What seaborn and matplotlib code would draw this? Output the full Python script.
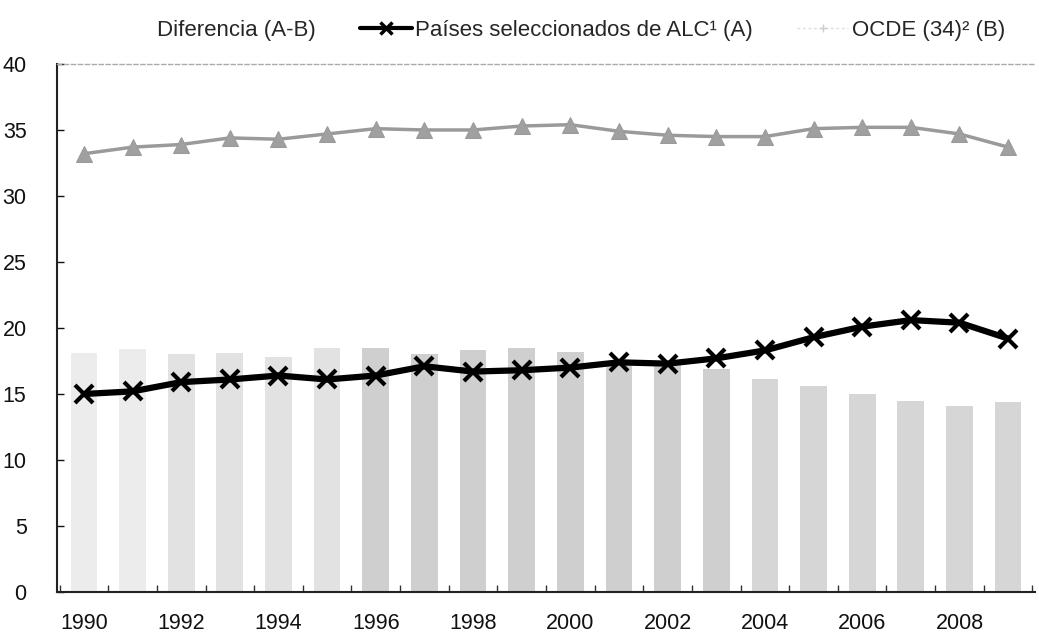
import matplotlib
matplotlib.use("Agg")
import matplotlib.pyplot as plt
from matplotlib.lines import Line2D
from matplotlib.patches import Patch
from matplotlib.ticker import MultipleLocator, FixedLocator
import seaborn as sns
import pandas as pd

years = list(range(1990, 2010))
alc = [15.0, 15.2, 15.9, 16.1, 16.4, 16.1, 16.4, 17.1, 16.7, 16.8,
       17.0, 17.4, 17.3, 17.7, 18.3, 19.3, 20.1, 20.6, 20.4, 19.2]
ocde = [33.2, 33.7, 33.9, 34.4, 34.3, 34.7, 35.1, 35.0, 35.0, 35.3,
        35.4, 34.9, 34.6, 34.5, 34.5, 35.1, 35.2, 35.2, 34.7, 33.7]
diferencia = [18.1, 18.4, 18.0, 18.1, 17.8, 18.5, 18.5, 18.0, 18.3, 18.5,
              18.2, 17.5, 17.3, 16.9, 16.1, 15.6, 15.0, 14.5, 14.1, 14.4]
xtick_labels = [str(y) for y in range(1990, 2010, 2)]

label_dif = "Diferencia (A-B)"
label_alc = "Países seleccionados de ALC¹ (A)"
label_ocde = "OCDE (34)² (B)"

bar_colors = (["#ececec"] * 2 + ["#e2e2e2"] * 4 + ["#cfcfcf"] * 8 + ["#d6d6d6"] * 6)

sns.set_theme(style="white")
plt.rcParams["font.family"] = ["Liberation Sans", "DejaVu Sans"]

df = pd.DataFrame({"year": years, "alc": alc, "ocde": ocde, "dif": diferencia})

fig = plt.figure(figsize=(10.39, 6.41), dpi=100)
ax = fig.add_axes([0.055, 0.0764, 0.941, 0.8238])

sns.barplot(data=df, x="year", y="dif", hue="year", palette=bar_colors,
            native_scale=True, width=0.55, dodge=False, legend=False,
            saturation=1, ax=ax, linewidth=0, zorder=1)
sns.lineplot(data=df, x="year", y="ocde", color="#9a9a9a", linewidth=2.5,
             marker="^", markersize=11, markeredgecolor="#9a9a9a",
             markerfacecolor="#a0a0a0", ax=ax, zorder=2)
sns.lineplot(data=df, x="year", y="alc", color="black", linewidth=4.5,
             marker="x", markersize=13, markeredgewidth=3,
             markeredgecolor="black", ax=ax, zorder=3)

ax.set_xlim(1989.45, 2009.55)
ax.set_ylim(0, 40)
ax.set_xlabel("")
ax.set_ylabel("")
ax.yaxis.set_major_locator(MultipleLocator(5))
ax.xaxis.set_major_locator(FixedLocator(list(range(1990, 2010, 2))))
ax.set_xticklabels(xtick_labels)
ax.xaxis.set_minor_locator(FixedLocator([y + 0.5 for y in range(1989, 2010)]))

for s in ["left", "bottom"]:
    ax.spines[s].set_color("#222222")
    ax.spines[s].set_linewidth(1.5)
ax.spines["top"].set_color("#aaaaaa")
ax.spines["top"].set_linestyle((0, (3, 2)))
ax.spines["top"].set_linewidth(1.0)
ax.spines["right"].set_visible(False)

ax.tick_params(axis="x", which="major", length=0, labelsize=15.5, pad=15, colors="#111111")
ax.tick_params(axis="x", which="minor", direction="in", length=5, width=1, color="#333333", bottom=True)
ax.tick_params(axis="y", which="major", direction="in", length=5, width=1, labelsize=15.5,
               pad=22, colors="#111111", left=True)
ax.grid(False)

handles = [
    Patch(facecolor="white", edgecolor="none"),
    Line2D([0], [0], color="black", linewidth=3, marker="x", markersize=9, markeredgewidth=2.5),
    Line2D([0], [0], color="#dddddd", linewidth=1, linestyle=(0, (2, 2)), marker="+",
           markersize=6, markeredgecolor="#cccccc"),
]
fig.legend(handles, [label_dif, label_alc, label_ocde], loc="center",
           bbox_to_anchor=(0.533, 0.953), ncol=3, frameon=False, fontsize=16,
           handlelength=2.3, handletextpad=0.15, columnspacing=2.0)

fig.savefig("out.png", dpi=100, facecolor="white")
